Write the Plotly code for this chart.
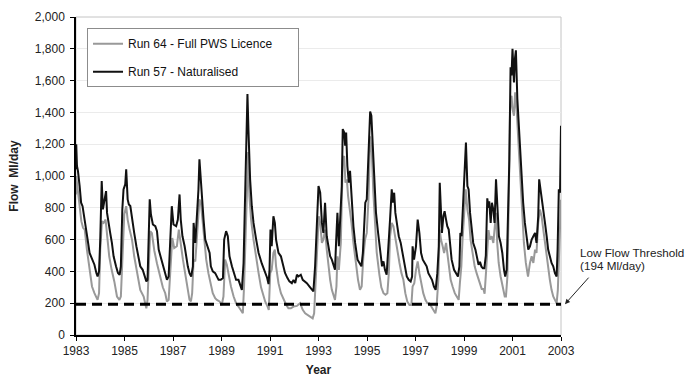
import plotly.graph_objects as go

# ---- data ----
nat_years = [1983.00, 1983.01, 1983.04, 1983.08, 1983.15, 1983.21, 1983.27, 1983.34, 1983.41, 1983.48, 1983.56, 1983.66, 1983.76, 1983.84, 1983.89, 1983.95,
             1984.00, 1984.06, 1984.11, 1984.18, 1984.24, 1984.28, 1984.35, 1984.41, 1984.48, 1984.55, 1984.65, 1984.73, 1984.80, 1984.85, 1984.91, 1984.96,
             1985.03, 1985.07, 1985.13, 1985.18, 1985.24, 1985.31, 1985.40, 1985.49, 1985.57, 1985.65, 1985.75, 1985.82, 1985.90, 1985.95, 1985.99,
             1986.04, 1986.09, 1986.17, 1986.27, 1986.34, 1986.41, 1986.48, 1986.58, 1986.68, 1986.75, 1986.82, 1986.89, 1986.95,
             1987.02, 1987.13, 1987.20, 1987.27, 1987.32, 1987.39, 1987.48, 1987.54, 1987.61, 1987.68, 1987.75, 1987.82, 1987.85, 1987.92, 1987.98,
             1988.05, 1988.09, 1988.15, 1988.20, 1988.26, 1988.33, 1988.42, 1988.51, 1988.56, 1988.64, 1988.74, 1988.81, 1988.88, 1988.97,
             1989.06, 1989.11, 1989.19, 1989.26, 1989.33, 1989.43, 1989.52, 1989.60, 1989.70, 1989.77, 1989.84, 1989.91, 1989.96,
             1990.02, 1990.07, 1990.11, 1990.18, 1990.25, 1990.32, 1990.43, 1990.53, 1990.66, 1990.78, 1990.88, 1990.94, 1990.98,
             1991.02, 1991.07, 1991.14, 1991.20, 1991.25, 1991.35, 1991.45, 1991.53, 1991.62, 1991.72, 1991.80, 1991.90, 1991.97,
             1992.04, 1992.11, 1992.17, 1992.27, 1992.35, 1992.45, 1992.52, 1992.63, 1992.72, 1992.79, 1992.86, 1992.93,
             1993.00, 1993.07, 1993.14, 1993.20, 1993.27, 1993.34, 1993.41, 1993.48, 1993.55, 1993.62, 1993.68, 1993.73, 1993.78, 1993.84, 1993.89, 1993.96,
             1994.00, 1994.06, 1994.10, 1994.14, 1994.19, 1994.25, 1994.30, 1994.36, 1994.44, 1994.51, 1994.61, 1994.69, 1994.77, 1994.83, 1994.88, 1994.93, 1994.99,
             1995.06, 1995.13, 1995.18, 1995.24, 1995.31, 1995.37, 1995.46, 1995.54, 1995.62, 1995.68, 1995.74, 1995.81, 1995.88, 1995.95,
             1996.02, 1996.06, 1996.12, 1996.17, 1996.23, 1996.31, 1996.39, 1996.47, 1996.55, 1996.64, 1996.72, 1996.80, 1996.86, 1996.88, 1996.94,
             1997.02, 1997.09, 1997.16, 1997.23, 1997.30, 1997.38, 1997.46, 1997.53, 1997.60, 1997.68, 1997.76, 1997.83, 1997.90, 1997.96,
             1998.00, 1998.04, 1998.09, 1998.15, 1998.20, 1998.26, 1998.31, 1998.37, 1998.42, 1998.49, 1998.59, 1998.67, 1998.75, 1998.81, 1998.85, 1998.90, 1998.94,
             1999.01, 1999.08, 1999.14, 1999.19, 1999.25, 1999.32, 1999.38, 1999.47, 1999.55, 1999.60, 1999.66, 1999.72, 1999.78, 1999.84, 1999.90, 1999.96,
             2000.01, 2000.04, 2000.10, 2000.15, 2000.21, 2000.26, 2000.32, 2000.35, 2000.39, 2000.44, 2000.51, 2000.58, 2000.65, 2000.70, 2000.76, 2000.81, 2000.87, 2000.92, 2000.96,
             2001.00, 2001.06, 2001.10, 2001.14, 2001.20, 2001.25, 2001.31, 2001.38, 2001.44, 2001.51, 2001.58, 2001.65, 2001.72, 2001.79, 2001.86, 2001.93, 2001.99,
             2002.06, 2002.10, 2002.16, 2002.20, 2002.27, 2002.34, 2002.41, 2002.47, 2002.54, 2002.61, 2002.68, 2002.75, 2002.82, 2002.86, 2002.91, 2002.96, 2003.00]
nat_flow = [1042, 1200, 1063, 1032, 937, 832, 810, 747, 674, 600, 516, 474, 442, 390, 368, 400,
            600, 968, 790, 853, 905, 768, 684, 642, 579, 495, 432, 390, 379, 432, 790, 916,
            947, 1042, 853, 821, 811, 726, 642, 558, 495, 432, 410, 368, 337, 347, 642,
            853, 758, 695, 684, 653, 537, 495, 453, 389, 347, 368, 621, 810,
            695, 684, 726, 884, 726, 621, 558, 495, 432, 389, 368, 432, 705, 579, 726,
            916, 1105, 958, 895, 726, 600, 558, 516, 432, 400, 389, 368, 347, 347,
            358, 600, 653, 621, 495, 432, 389, 347, 347, 316, 284, 453, 789,
            1000, 1516, 1295, 979, 810, 705, 600, 516, 450, 400, 360, 320, 410,
            663, 558, 747, 705, 600, 516, 495, 453, 390, 358, 337, 326, 347,
            326, 379, 368, 379, 347, 337, 326, 305, 284, 274, 432, 684,
            937, 895, 705, 642, 832, 621, 558, 495, 474, 432, 410, 600, 768, 558, 684, 937,
            1295, 1274, 1190, 1274, 1063, 958, 1032, 853, 684, 579, 474, 453, 432, 516, 684, 832, 853,
            1168, 1405, 1379, 1160, 950, 770, 640, 520, 432, 463, 410, 379, 600, 726,
            916, 832, 895, 768, 705, 621, 579, 516, 432, 368, 347, 337, 368, 558, 474,
            558, 726, 642, 516, 474, 453, 432, 389, 368, 347, 305, 284, 389, 558,
            958, 810, 642, 747, 779, 726, 684, 663, 558, 474, 410, 389, 368, 432, 642, 621, 768,
            979, 1211, 937, 916, 768, 663, 579, 537, 474, 442, 460, 430, 420, 420, 500, 860,
            800, 840, 705, 832, 789, 705, 979, 874, 705, 621, 579, 516, 410, 368, 410, 684, 1105, 1684, 1632,
            1800, 1589, 1737, 1790, 1484, 1337, 1168, 1000, 832, 705, 621, 537, 558, 600, 621, 642, 579,
            747, 979, 916, 853, 789, 705, 621, 537, 495, 453, 432, 389, 368, 537, 916, 895, 1316]

lic_years = [1983.00, 1983.01, 1983.07, 1983.15, 1983.22, 1983.29, 1983.36, 1983.45, 1983.56, 1983.66, 1983.76, 1983.84, 1983.89, 1983.95,
             1984.00, 1984.07, 1984.14, 1984.22, 1984.28, 1984.37, 1984.47, 1984.58, 1984.69, 1984.79, 1984.85, 1984.92, 1984.99,
             1985.07, 1985.13, 1985.21, 1985.31, 1985.40, 1985.51, 1985.65, 1985.79, 1985.90, 1985.95,
             1986.01, 1986.06, 1986.13, 1986.23, 1986.34, 1986.48, 1986.58, 1986.68, 1986.75, 1986.82, 1986.91, 1986.97,
             1987.05, 1987.16, 1987.24, 1987.32, 1987.41, 1987.50, 1987.60, 1987.68, 1987.74, 1987.79, 1987.85, 1987.92, 1987.98,
             1988.05, 1988.09, 1988.15, 1988.22, 1988.29, 1988.37, 1988.46, 1988.56, 1988.64, 1988.74, 1988.81, 1988.92,
             1989.01, 1989.08, 1989.15, 1989.22, 1989.30, 1989.39, 1989.50, 1989.60, 1989.70, 1989.80, 1989.88, 1989.93, 1989.99,
             1990.04, 1990.10, 1990.15, 1990.22, 1990.32, 1990.43, 1990.53, 1990.63, 1990.72, 1990.80, 1990.90, 1990.95,
             1991.01, 1991.07, 1991.14, 1991.20, 1991.25, 1991.35, 1991.45, 1991.56, 1991.67, 1991.76, 1991.86, 1991.97,
             1992.11, 1992.24, 1992.35, 1992.45, 1992.54, 1992.65, 1992.76, 1992.82, 1992.89, 1992.96,
             1993.01, 1993.07, 1993.14, 1993.20, 1993.27, 1993.34, 1993.41, 1993.48, 1993.55, 1993.62, 1993.68, 1993.74, 1993.78, 1993.84, 1993.92,
             1994.00, 1994.06, 1994.11, 1994.17, 1994.22, 1994.28, 1994.36, 1994.44, 1994.55, 1994.63, 1994.71, 1994.78, 1994.85, 1994.92, 1994.99,
             1995.06, 1995.13, 1995.20, 1995.26, 1995.33, 1995.40, 1995.51, 1995.59, 1995.68, 1995.76, 1995.84, 1995.90, 1995.95,
             1996.02, 1996.09, 1996.17, 1996.25, 1996.34, 1996.42, 1996.50, 1996.58, 1996.66, 1996.75, 1996.83, 1996.88, 1996.95,
             1997.02, 1997.09, 1997.16, 1997.24, 1997.32, 1997.41, 1997.49, 1997.57, 1997.65, 1997.74, 1997.82, 1997.87, 1997.94,
             1998.00, 1998.05, 1998.12, 1998.18, 1998.26, 1998.31, 1998.37, 1998.45, 1998.53, 1998.62, 1998.70, 1998.78, 1998.83, 1998.89, 1998.94,
             1999.00, 1999.07, 1999.14, 1999.21, 1999.27, 1999.36, 1999.44, 1999.52, 1999.60, 1999.66, 1999.73, 1999.80, 1999.85, 1999.91, 1999.96,
             2000.01, 2000.07, 2000.14, 2000.21, 2000.28, 2000.32, 2000.37, 2000.43, 2000.51, 2000.59, 2000.68, 2000.73, 2000.79, 2000.84, 2000.90, 2000.96,
             2001.00, 2001.06, 2001.11, 2001.17, 2001.24, 2001.31, 2001.39, 2001.47, 2001.55, 2001.64, 2001.72, 2001.79, 2001.86, 2001.93, 2001.99,
             2002.06, 2002.13, 2002.20, 2002.27, 2002.34, 2002.41, 2002.47, 2002.54, 2002.61, 2002.68, 2002.75, 2002.82, 2002.87, 2002.93, 2002.96, 2003.00]
lic_flow = [884, 1000, 916, 810, 716, 674, 663, 537, 410, 305, 263, 232, 221, 263,
            537, 716, 705, 726, 642, 495, 410, 337, 242, 221, 242, 558, 758,
            810, 726, 663, 600, 495, 390, 284, 242, 168, 221,
            537, 653, 640, 530, 450, 350, 300, 263, 211, 221, 474, 610,
            547, 558, 663, 558, 474, 389, 305, 221, 211, 263, 474, 463, 600,
            768, 853, 832, 726, 600, 474, 389, 305, 263, 232, 221, 211,
            189, 242, 474, 442, 368, 305, 242, 200, 179, 158, 137, 305, 663,
            958, 1150, 874, 726, 600, 474, 389, 300, 250, 211, 179, 158,
            390, 410, 516, 537, 432, 326, 263, 221, 189, 168, 168, 179,
            183, 200, 158, 137, 126, 116, 105, 137, 390, 663,
            747, 705, 579, 600, 663, 537, 432, 347, 284, 242, 221, 305, 495, 410, 579,
            1105, 1126, 958, 979, 874, 810, 705, 579, 432, 347, 284, 305, 495, 600, 642,
            853, 1250, 1150, 900, 680, 520, 380, 300, 263, 253, 263, 389, 621,
            705, 684, 600, 516, 453, 389, 347, 263, 211, 189, 189, 305, 326,
            410, 463, 389, 326, 263, 221, 200, 200, 179, 158, 137, 179, 347,
            663, 600, 558, 516, 579, 516, 432, 347, 305, 263, 242, 221, 326, 432, 600,
            768, 916, 789, 726, 600, 495, 432, 389, 347, 330, 290, 290, 260, 400, 560,
            660, 600, 621, 579, 684, 768, 579, 453, 368, 305, 242, 242, 368, 789, 1421, 1505,
            1421, 1379, 1526, 1421, 1210, 1000, 789, 579, 453, 368, 453, 495, 453, 537, 516,
            705, 789, 747, 663, 579, 495, 410, 347, 284, 242, 221, 200, 284, 579, 663, 850]

threshold = 194
threshold_span = [1983, 2003]
year_ticks = [1983, 1985, 1987, 1989, 1991, 1993, 1995, 1997, 1999, 2001, 2003]
flow_ticks = [0, 200, 400, 600, 800, 1000, 1200, 1400, 1600, 1800, 2000]

FONT = "Liberation Sans, Arial, sans-serif"
PAD = "\u00a0" * 6  # widens the legend box like the reference

fig = go.Figure()
fig.add_trace(go.Scatter(x=lic_years, y=lic_flow, mode="lines", name="Run 64 - Full PWS Licence" + PAD,
                         line=dict(color="#999999", width=2), legendgroup="a"))
fig.add_trace(go.Scatter(x=nat_years, y=nat_flow, mode="lines", name="Run 57 - Naturalised",
                         line=dict(color="#111111", width=2), legendgroup="b"))
fig.add_trace(go.Scatter(x=threshold_span, y=[threshold, threshold], mode="lines", showlegend=False,
                         line=dict(color="#000000", width=3, dash="10px,6px"), hoverinfo="skip"))

fig.update_layout(
    width=688, height=382,
    margin=dict(l=76, r=127, t=17, b=47, autoexpand=False),
    paper_bgcolor="white", plot_bgcolor="white",
    font=dict(family=FONT, size=12, color="#222222"),
    showlegend=True,
    legend=dict(x=0.0227, y=0.965, xanchor="left", yanchor="top",
                bordercolor="#8c8c8c", borderwidth=1, bgcolor="white",
                font=dict(size=12, color="#111111"), tracegroupgap=9,
                traceorder="grouped"),
    xaxis=dict(range=[1983, 2003], tickvals=year_ticks, ticktext=[str(v) for v in year_ticks],
               ticks="outside", ticklen=4, tickcolor="#000", tickwidth=1, automargin=False,
               showline=True, linecolor="#000", linewidth=1.5, showgrid=False, zeroline=False,
               title=dict(text="<b>Year</b>", standoff=8, font=dict(size=12, color="#222"))),
    yaxis=dict(range=[0, 2000], tickvals=flow_ticks, tickformat=",", automargin=False,
               ticks="outside", ticklen=4, tickcolor="#000", tickwidth=1, ticklabelstandoff=3,
               showline=True, linecolor="#000", linewidth=1.5,
               showgrid=True, gridcolor="#ebebeb", gridwidth=1, zeroline=False,
               title=dict(text="<b>Flow\u00a0 Ml/day</b>", standoff=14, font=dict(size=12, color="#222"))),
    shapes=[dict(type="rect", xref="paper", yref="paper", x0=0, x1=1, y0=0, y1=1,
                 line=dict(color="#c4c4c4", width=1), layer="below")],
    annotations=[
        dict(x=1.0082, y=threshold, xref="paper", yref="y", text="", showarrow=True,
             ax=25, ay=-28, arrowhead=2, arrowsize=1, arrowwidth=1, arrowcolor="#222"),
        dict(x=1.0344, y=0.261, xref="paper", yref="paper", text="Low Flow Threshold",
             showarrow=False, xanchor="left", yanchor="middle", align="left",
             font=dict(size=11.7, color="#222")),
        dict(x=1.0344, y=0.220, xref="paper", yref="paper", text="(194 Ml/day)",
             showarrow=False, xanchor="left", yanchor="middle", align="left",
             font=dict(size=11.7, color="#222")),
    ],
)

fig.write_html("out.html")
